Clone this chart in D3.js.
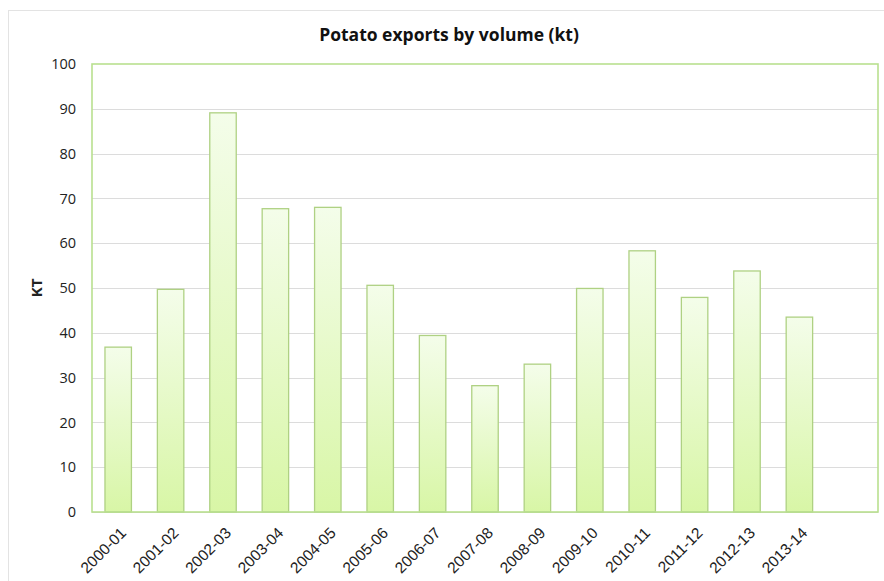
<!DOCTYPE html>
<html>
<head>
<meta charset="utf-8">
<script src="https://cdn.jsdelivr.net/npm/d3@7"></script>
<style>
  html, body { margin: 0; padding: 0; background: #fff; }
  svg { display: block; font-family: "Open Sans", "Liberation Sans", sans-serif; }
</style>
</head>
<body>
<svg id="chart" width="884" height="581"></svg>
<script>
// Marketing years (the final slot is an empty year with no bar)
const seasons = ["2000-01", "2001-02", "2002-03", "2003-04", "2004-05", "2005-06", "2006-07",
  "2007-08", "2008-09", "2009-10", "2010-11", "2011-12", "2012-13", "2013-14", ""];
// Export volume, thousand tonnes
const exportsKt = [36.8, 49.7, 89.1, 67.7, 68.0, 50.6, 39.4, 28.2, 33.0, 49.9, 58.3, 47.9, 53.8, 43.5, null];
const yTicks = [0, 10, 20, 30, 40, 50, 60, 70, 80, 90, 100];

const svg = d3.select("#chart");
const W = 884, H = 581;
const plot = { left: 92, right: 878, top: 64, bottom: 512 };

// outer chart frame
svg.append("rect")
  .attr("x", 8.5).attr("y", 10.5)
  .attr("width", W).attr("height", H)
  .attr("fill", "#fff").attr("stroke", "#e3e3e3");

const defs = svg.append("defs");
const grad = defs.append("linearGradient")
  .attr("id", "barFill").attr("x1", 0).attr("y1", 0).attr("x2", 0).attr("y2", 1);
grad.append("stop").attr("offset", "0%").attr("stop-color", "#f4fdea");
grad.append("stop").attr("offset", "100%").attr("stop-color", "#d8f6a6");

const x = d3.scaleBand()
  .domain(seasons.map((s, i) => i))
  .range([plot.left, plot.right])
  .paddingInner(0.495)
  .paddingOuter(0.2475);

const y = d3.scaleLinear().domain([0, 100]).range([plot.bottom, plot.top]);

// horizontal gridlines
svg.append("g")
  .selectAll("line")
  .data(yTicks.filter(t => t > 0 && t < 100))
  .join("line")
  .attr("x1", plot.left).attr("x2", plot.right)
  .attr("y1", d => Math.round(y(d)) + 0.5).attr("y2", d => Math.round(y(d)) + 0.5)
  .attr("stroke", "#dcdcdc").attr("stroke-width", 1.2);

// baseline
svg.append("line")
  .attr("x1", plot.left).attr("x2", plot.right)
  .attr("y1", y(0) + 0.5).attr("y2", y(0) + 0.5)
  .attr("stroke", "#d0d0d0").attr("stroke-width", 1.2);

// bars
svg.append("g")
  .selectAll("rect")
  .data(seasons.map((s, i) => ({ i, v: exportsKt[i] })).filter(d => d.v != null))
  .join("rect")
  .attr("x", d => x(d.i))
  .attr("y", d => y(d.v))
  .attr("width", x.bandwidth())
  .attr("height", d => y(0) - y(d.v))
  .attr("fill", "url(#barFill)")
  .attr("stroke", "#afd183")
  .attr("stroke-width", 1.3);

// plot area border
svg.append("rect")
  .attr("x", plot.left).attr("y", plot.top)
  .attr("width", plot.right - plot.left).attr("height", plot.bottom - plot.top)
  .attr("fill", "none").attr("stroke", "#b9e08f").attr("stroke-width", 1.6);

// y axis
const yAxis = svg.append("g")
  .attr("transform", `translate(${plot.left},0)`)
  .call(d3.axisLeft(y).tickValues(yTicks).tickSize(0).tickPadding(16));
yAxis.select(".domain").remove();
yAxis.selectAll("text")
  .attr("font-size", 14.5).attr("fill", "#222")
  .style("font-family", "'Open Sans', sans-serif");

// x axis
const xAxis = svg.append("g")
  .attr("transform", `translate(0,${plot.bottom})`)
  .call(d3.axisBottom(x).tickFormat(i => seasons[i]).tickSize(0).tickPadding(0));
xAxis.select(".domain").remove();
xAxis.selectAll("text")
  .attr("font-size", 15.5).attr("fill", "#222")
  .attr("text-anchor", "end")
  .attr("dy", 0)
  .attr("transform", "translate(9,22) rotate(-45)");

// y axis title
svg.append("text")
  .attr("transform", `translate(42,${(plot.top + plot.bottom) / 2}) rotate(-90)`)
  .attr("text-anchor", "middle")
  .attr("font-size", 15).attr("font-weight", "bold").attr("fill", "#222")
  .text("KT");

// chart title
svg.append("text")
  .attr("x", 449).attr("y", 41)
  .attr("text-anchor", "middle")
  .attr("font-size", 17.5).attr("font-weight", "bold").attr("fill", "#111")
  .text("Potato exports by volume (kt)");
</script>
</body>
</html>
